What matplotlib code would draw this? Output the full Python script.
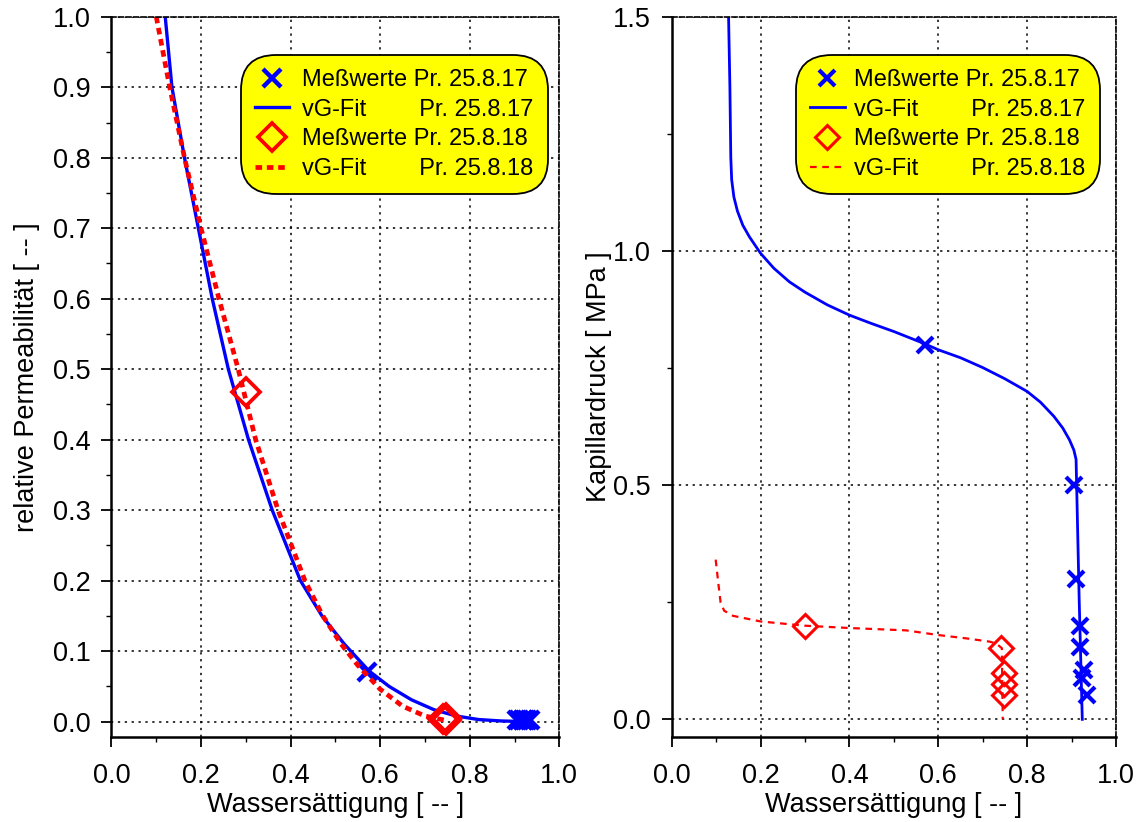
import numpy as np
import matplotlib
matplotlib.use('Agg')
import matplotlib.pyplot as plt
from matplotlib.ticker import MultipleLocator, FormatStrFormatter

plt.rcParams['font.family'] = ['Liberation Sans', 'DejaVu Sans']
plt.rcParams['font.size'] = 19.5

# Messwerte Probe 25.8.17 (Saettigung, rel. Permeabilitaet, Kapillardruck)
sat_17 = [0.57, 0.906, 0.909, 0.918, 0.918, 0.928, 0.924, 0.935]
kr_17 = [0.070, 0.002, 0.002, 0.002, 0.002, 0.002, 0.002, 0.002]
pc_17 = [0.80, 0.50, 0.30, 0.20, 0.154, 0.105, 0.088, 0.052]

# Messwerte Probe 25.8.18
sat_18 = [0.30, 0.741, 0.747, 0.747, 0.747]
kr_18 = [0.467, 0.004, 0.003, 0.005, 0.004]
pc_18 = [0.20, 0.152, 0.100, 0.076, 0.051]

# van Genuchten Fits, rel. Permeabilitaet
fit_kr_sat_17 = [0.12, 0.135, 0.163, 0.194, 0.225, 0.261, 0.306, 0.359, 0.422, 0.47, 0.52,
                 0.575, 0.62, 0.67, 0.72, 0.77, 0.82, 0.87, 0.93]
fit_kr_17 = [1.0, 0.9, 0.8, 0.7, 0.6, 0.5, 0.4, 0.3, 0.2, 0.15, 0.11,
             0.072, 0.05, 0.031, 0.017, 0.008, 0.003, 0.001, 0.0]
fit_kr_sat_18 = [0.10, 0.13, 0.163, 0.20, 0.24, 0.283, 0.322, 0.372, 0.432, 0.472, 0.513,
                 0.55, 0.60, 0.65, 0.70, 0.745]
fit_kr_18 = [1.0, 0.9, 0.8, 0.7, 0.6, 0.5, 0.4, 0.3, 0.2, 0.15, 0.11,
             0.08, 0.046, 0.022, 0.008, 0.002]

# van Genuchten Fits, Kapillardruck
fit_pc_sat_17 = [0.128, 0.131, 0.133, 0.135, 0.140, 0.148, 0.160, 0.175, 0.20, 0.23,
                 0.265, 0.30, 0.35, 0.40, 0.45, 0.50, 0.569, 0.60, 0.65, 0.70,
                 0.75, 0.80, 0.83, 0.86, 0.88, 0.895, 0.905, 0.910, 0.912, 0.917, 0.924]
fit_pc_17 = [1.50, 1.35, 1.20, 1.152, 1.115, 1.085, 1.055, 1.03, 0.995, 0.963,
             0.934, 0.912, 0.885, 0.863, 0.845, 0.828, 0.802, 0.789, 0.772, 0.751,
             0.727, 0.700, 0.677, 0.647, 0.622, 0.597, 0.575, 0.555, 0.47, 0.256, 0.0]
fit_pc_sat_18 = [0.099, 0.105, 0.110, 0.118, 0.138, 0.20, 0.299, 0.40, 0.527, 0.60,
                 0.662, 0.715, 0.730, 0.743, 0.745]
fit_pc_18 = [0.341, 0.29, 0.25, 0.232, 0.221, 0.209, 0.200, 0.195, 0.190, 0.180,
             0.173, 0.166, 0.162, 0.152, 0.0]

labels = ['Meßwerte Pr. 25.8.17', 'vG-Fit        Pr. 25.8.17',
          'Meßwerte Pr. 25.8.18', 'vG-Fit        Pr. 25.8.18']

fig = plt.figure(figsize=(11.4, 8.22), dpi=100)
ax1 = fig.add_axes([0.0978, 0.1038, 0.3928, 0.8758])
ax2 = fig.add_axes([0.5892, 0.1038, 0.3898, 0.8758])


def style_axes(ax):
    for side in ['left', 'bottom']:
        ax.spines[side].set_linewidth(1.8)
    for side in ['top', 'right']:
        ax.spines[side].set_linewidth(1.2)
        ax.spines[side].set_linestyle((0, (3, 1.5)))
    ax.tick_params(which='major', direction='out', length=7, width=1.3,
                   top=False, right=False)
    ax.tick_params(which='minor', direction='out', length=3.5, width=1.0,
                   top=False, right=False)
    ax.tick_params(axis='x', which='major', pad=12)
    ax.tick_params(axis='y', which='major', pad=8)
    ax.grid(True, which='major', color='black', linestyle=(0, (1.5, 3)), linewidth=1.1)
    ax.set_xlim(0, 1)
    ax.xaxis.set_major_locator(MultipleLocator(0.2))
    ax.xaxis.set_minor_locator(MultipleLocator(0.1))
    ax.xaxis.set_major_formatter(FormatStrFormatter('%.1f'))
    ax.set_xlabel('Wassersättigung [ -- ]', labelpad=2)


def add_legend(ax, handles, corner, textpad):
    leg = ax.legend(handles=handles, labels=labels, loc='upper right',
                    bbox_to_anchor=corner, bbox_transform=fig.transFigure,
                    borderaxespad=0, fontsize=17, handlelength=1.45,
                    handletextpad=textpad, labelspacing=0.32, borderpad=0.6,
                    framealpha=1.0, fancybox=True)
    frame = leg.get_frame()
    frame.set_facecolor('#ffff00')
    frame.set_edgecolor('black')
    frame.set_linewidth(1.3)
    frame.set_boxstyle('round', pad=0.0, rounding_size=1.5)
    return leg


# linkes Diagramm: relative Permeabilitaet
style_axes(ax1)
m1, = ax1.plot(sat_17, kr_17, linestyle='none', marker='x', color='blue',
               markersize=13, markeredgewidth=3.2)
l1, = ax1.plot(fit_kr_sat_17, fit_kr_17, color='blue', linewidth=2.4)
l2, = ax1.plot(fit_kr_sat_18, fit_kr_18, color='red', linewidth=3.4,
               linestyle=(0, (1.4, 1.0)))
m2, = ax1.plot(sat_18, kr_18, linestyle='none', marker='D', color='red',
               markerfacecolor='none', markersize=14.5, markeredgewidth=2.7)
ax1.set_ylim(-0.0213, 1.0)
ax1.yaxis.set_major_locator(MultipleLocator(0.1))
ax1.yaxis.set_minor_locator(MultipleLocator(0.05))
ax1.yaxis.set_major_formatter(FormatStrFormatter('%.1f'))
ax1.set_ylabel('relative Permeabilität [ -- ]', labelpad=9)
add_legend(ax1, [m1, l1, m2, l2], (0.4807, 0.9331), 0.55)

# rechtes Diagramm: Kapillardruck
style_axes(ax2)
m3, = ax2.plot(sat_17, pc_17, linestyle='none', marker='x', color='blue',
               markersize=12, markeredgewidth=3.0)
l3, = ax2.plot(fit_pc_sat_17, fit_pc_17, color='blue', linewidth=2.0)
l4, = ax2.plot(fit_pc_sat_18, fit_pc_18, color='red', linewidth=1.6,
               linestyle=(0, (3, 2.5)))
m4, = ax2.plot(sat_18, pc_18, linestyle='none', marker='D', color='red',
               markerfacecolor='none', markersize=12.5, markeredgewidth=2.2)
ax2.set_ylim(-0.037, 1.5)
ax2.yaxis.set_major_locator(MultipleLocator(0.5))
ax2.yaxis.set_minor_locator(MultipleLocator(0.25))
ax2.yaxis.set_major_formatter(FormatStrFormatter('%.1f'))
ax2.set_ylabel('Kapillardruck [ MPa ]', labelpad=1)
add_legend(ax2, [m3, l3, m4, l4], (0.9649, 0.9331), 0.42)

fig.savefig('out.png', dpi=100)
